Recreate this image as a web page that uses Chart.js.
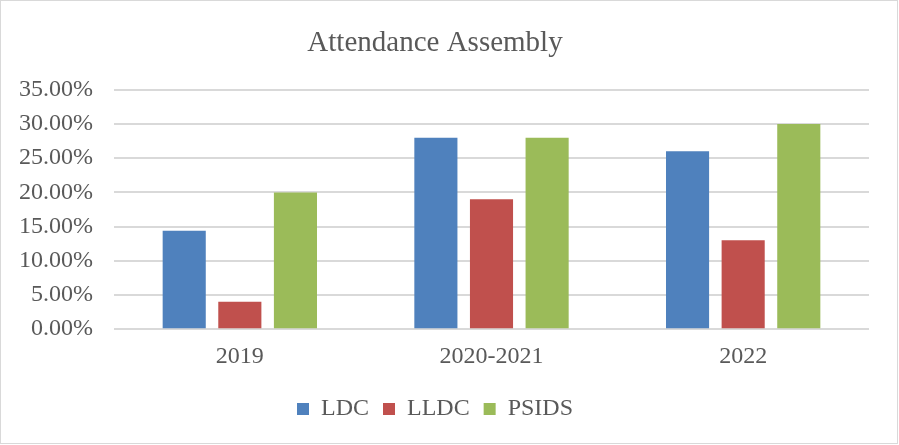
<!DOCTYPE html>
<html>
<head>
<meta charset="utf-8">
<script src="https://cdn.jsdelivr.net/npm/chart.js@4"></script>
<style>
  html, body { margin: 0; padding: 0; background: #fff; }
  #wrap { position: absolute; left: 0; top: 0; width: 896px; height: 442px; border: 1px solid #d9d9d9; }
</style>
</head>
<body>
<div id="wrap"><canvas id="chart"></canvas></div>
<script>
const categories = ['2019', '2020-2021', '2022'];
const ldc = [14.4, 28, 26];
const lldc = [4, 19, 13];
const psids = [20, 28, 30];
const yTicks = [0, 5, 10, 15, 20, 25, 30, 35];

const serif = '"Liberation Serif", "Times New Roman", serif';
const textColor = '#595959';

new Chart(document.getElementById('chart'), {
    type: 'bar',
    data: {
        labels: categories,
        datasets: [
            { label: 'LDC', data: ldc, backgroundColor: '#4F81BD' },
            { label: 'LLDC', data: lldc, backgroundColor: '#C0504D' },
            { label: 'PSIDS', data: psids, backgroundColor: '#9BBB59' }
        ]
    },
    options: {
        responsive: true,
        maintainAspectRatio: false,
        animation: false,
        categoryPercentage: 0.663,
        barPercentage: 0.775,
        layout: { padding: { left: 0, right: 28, top: 10, bottom: 12 } },
        plugins: {
            title: {
                display: true,
                text: 'Attendance Assembly',
                color: textColor,
                font: { family: serif, size: 29, weight: 'normal' },
                padding: { top: 15, bottom: 29 }
            },
            legend: {
                position: 'bottom',
                labels: {
                    color: textColor,
                    font: { family: serif, size: 24 },
                    boxWidth: 12,
                    boxHeight: 12,
                    padding: 14
                }
            },
            tooltip: { enabled: false }
        },
        scales: {
            x: {
                grid: { display: false },
                border: { display: false },
                afterFit: scale => { scale.height += 7; },
                ticks: { color: textColor, font: { family: serif, size: 24 }, padding: 5 }
            },
            y: {
                min: 0,
                max: 35,
                afterBuildTicks: scale => { scale.ticks = yTicks.map(v => ({ value: v })); },
                afterFit: scale => { scale.width = 113; },
                grid: { color: '#d9d9d9', lineWidth: 2, drawTicks: false },
                border: { display: false },
                ticks: {
                    color: textColor,
                    font: { family: serif, size: 24 },
                    padding: 21,
                    callback: v => v.toFixed(2) + '%'
                }
            }
        }
    }
});
</script>
</body>
</html>
